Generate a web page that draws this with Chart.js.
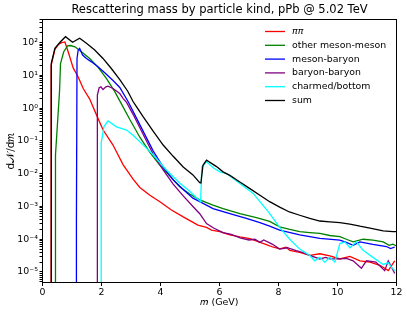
<!DOCTYPE html>
<html>
<head>
<meta charset="utf-8">
<script src="https://cdn.jsdelivr.net/npm/chart.js@4"></script>
<style>body{margin:0;background:#fff}</style>
</head>
<body>
<canvas id="myChart" width="407" height="314"></canvas>
<script>
// Values (mass in GeV, dN/dm)
let yMin = 4.78e-6;
let yMax = 510;

let mPiPi = [0.29,0.29,0.42,0.55,0.65,0.76,0.87,1.04,1.21,1.38,1.6,1.8,2.05,2.39,2.73,3.07,3.3,3.64,3.98,4.37,4.77,5.27,5.56,5.73,6.01,6.35,6.69,7.03,7.31,7.59,7.8,8.04,8.26,8.38,8.72,9.06,9.4,9.74,10.08,10.42,10.76,11.1,11.44,11.72,11.94];
let yPiPi = [1e-12,20,62,90,100,105,53,17,9,4,1.9,0.72,0.22,0.075,0.019,0.0068,0.0038,0.0022,0.0014,0.00078,0.00048,0.00027,0.00023,0.00019,0.00017,0.000135,0.000118,0.000105,0.000085,0.000068,5.8e-5,5.1e-5,5.7e-5,4.6e-5,4.0e-5,3.2e-5,3.6e-5,3.1e-5,2.5e-5,3.0e-5,2.2e-5,2.0e-5,1.6e-5,1.1e-5,2.2e-5];

let mOther = [0.44,0.44,0.58,0.61,0.72,0.85,0.95,1.1,1.32,1.6,1.88,2.17,2.45,2.73,2.96,3.3,3.64,3.98,4.32,4.65,4.99,5.33,5.78,6.12,6.69,7.25,7.7,8.04,8.38,8.72,9.06,9.4,9.74,10.08,10.3,10.53,10.87,11.2,11.55,11.75,11.88,12.0];
let yOther = [1e-12,0.037,3.6,23,53,80,82,75,53,33,18,8,3.2,1.1,0.45,0.13,0.045,0.018,0.0085,0.004,0.0024,0.0016,0.0011,0.00086,0.0006,0.00046,0.00035,0.00024,0.0002,0.00017,0.00016,0.00015,0.00013,0.00012,0.0001,8.3e-5,1.0e-4,9.4e-5,8.3e-5,6.5e-5,7.1e-5,6.2e-5];

let mMesBar = [1.14,1.15,1.17,1.21,1.26,1.36,1.49,1.66,1.88,2.11,2.39,2.62,2.9,3.07,3.41,3.75,4.09,4.43,4.77,5.1,5.33,5.78,6.35,6.91,7.37,7.7,8.04,8.72,9.4,10.08,10.3,10.53,10.76,11.2,11.66,11.8,11.94];
let yMesBar = [1e-12,4e-4,33,60,67,42,33,26,18.5,12,7,4.3,1.6,0.8,0.2,0.05,0.016,0.0065,0.0033,0.0018,0.0014,0.00086,0.0006,0.00043,0.00032,0.00025,0.00019,0.000135,0.000106,9.4e-5,8e-5,6.5e-5,8.3e-5,7e-5,6e-5,5.2e-5,5.8e-5];

let mBarBar = [1.86,1.86,1.92,1.98,2.05,2.15,2.22,2.39,2.62,2.73,2.85,3.07,3.41,3.75,4.09,4.43,4.77,5.1,5.33,5.56,5.8,6.12,6.4,6.7,7.0,7.2,7.37,7.5,7.8,8.04,8.3,8.6,8.8,9.06,9.4,9.6,9.74,10.08,10.3,10.53,10.81,10.98,11.3,11.6,11.72,11.94];
let yBarBar = [1e-12,2.5,4.2,4.5,3.7,4.5,4.7,4.0,2.8,2.0,1.5,0.65,0.16,0.04,0.013,0.0048,0.0021,0.001,0.0006,0.0003,0.00022,0.00016,0.00014,0.00011,9.5e-5,1.0e-4,8e-5,9.5e-5,7e-5,5e-5,5.5e-5,4.5e-5,4e-5,3.2e-5,2.5e-5,2.8e-5,2.5e-5,2.5e-5,2.6e-5,2.2e-5,1.3e-5,2.2e-5,2e-5,1.1e-5,2.2e-5,9e-6];

let mHeavy = [1.99,1.99,2.08,2.22,2.51,2.85,3.07,3.41,3.75,4.2,4.65,4.99,5.33,5.36,5.40,5.56,5.8,6.01,6.24,6.69,7.14,7.37,7.65,8.04,8.38,8.72,9.06,9.23,9.4,9.57,9.74,9.91,10.08,10.25,10.42,10.64,10.87,11.2,11.55,11.72,11.83,11.94];
let yHeavy = [1e-12,0.086,0.27,0.41,0.27,0.215,0.15,0.076,0.038,0.013,0.0052,0.0029,0.0015,0.0014,0.016,0.023,0.015,0.0114,0.0101,0.005,0.0025,0.0014,0.0007,0.00023,0.0001,5e-5,3.2e-5,2.2e-5,2.8e-5,2e-5,2.8e-5,2e-5,7.4e-5,8.3e-5,5.5e-5,8.3e-5,4.6e-5,2.8e-5,1.7e-5,1.9e-5,1.4e-5,1.1e-5];

let mSum = [0.29,0.30,0.42,0.61,0.78,1.02,1.26,1.49,1.77,2.05,2.34,2.62,2.89,3.07,3.19,3.41,3.75,4.09,4.43,4.77,5.10,5.33,5.37,5.44,5.56,5.90,6.12,6.35,6.69,7.03,7.37,7.70,8.04,8.37,8.72,9.06,9.40,9.74,10.08,10.42,10.76,11.10,11.55,11.88,12.0];
let ySum = [1e-12,24,67,107,152,103,136,96,60,33,16,7.5,3.3,1.6,1.1,0.55,0.2,0.075,0.034,0.016,0.0092,0.0053,0.0052,0.018,0.026,0.0165,0.0114,0.0089,0.0056,0.0035,0.0022,0.0014,0.00096,0.00068,0.00054,0.00043,0.00036,0.00034,0.00032,0.00029,0.00025,0.00022,0.00018,0.00017,0.00017];

let seriesNames = ['ππ', 'other meson-meson', 'meson-baryon', 'baryon-baryon', 'charmed/bottom', 'sum'];
let seriesColors = ['#ff0000', '#008000', '#0000ff', '#800080', '#00ffff', '#000000'];
let seriesM = [mPiPi, mOther, mMesBar, mBarBar, mHeavy, mSum];
let seriesY = [yPiPi, yOther, yMesBar, yBarBar, yHeavy, ySum];

let fontFamily = "'DejaVu Sans', sans-serif";
Chart.defaults.color = '#000';
Chart.defaults.font.family = fontFamily;

function toPoints(ms, ys) {
    return ms.map((m, i) => ({x: m, y: ys[i]}));
}

function superscript(n) {
    const map = {'-': '⁻', '0': '⁰', '1': '¹', '2': '²', '3': '³', '4': '⁴', '5': '⁵', '6': '⁶', '7': '⁷', '8': '⁸', '9': '⁹'};
    return String(n).split('').map(c => map[c]).join('');
}

// legend inside the plot, plus the box round it
const insideLegend = {
    id: 'insideLegend',
    afterDraw(chart) {
        const ctx = chart.ctx;
        const area = chart.chartArea;
        ctx.save();
        ctx.strokeStyle = '#000';
        ctx.lineWidth = 1;
        ctx.strokeRect(area.left, area.top, area.right - area.left, area.bottom - area.top);
        chart.data.datasets.forEach((ds, i) => {
            const y = area.top + 12 + i * 13.8;
            ctx.strokeStyle = ds.borderColor;
            ctx.lineWidth = 1.3;
            ctx.beginPath();
            ctx.moveTo(area.right - 131.5, y);
            ctx.lineTo(area.right - 111.5, y);
            ctx.stroke();
            ctx.fillStyle = '#000';
            ctx.font = (ds.label === 'ππ' ? 'italic ' : '') + '9.4px ' + fontFamily;
            ctx.textBaseline = 'middle';
            ctx.fillText(ds.label, area.right - 104.5, y);
        });
        ctx.restore();
    }
};

let datasets = seriesNames.map((name, i) => ({
    label: name,
    data: toPoints(seriesM[i], seriesY[i]),
    borderColor: seriesColors[i],
    borderWidth: 1.3,
    pointRadius: 0,
    fill: false,
    tension: 0,
    order: seriesNames.length - i
}));

ctx = document.getElementById('myChart').getContext('2d');
myChart = new Chart(ctx, {
    type: 'line',
    data: { datasets: datasets },
    options: {
        responsive: false,
        animation: false,
        layout: { padding: { left: 0, right: 10.5, top: 0, bottom: 0 } },
        plugins: {
            legend: { display: false },
            tooltip: { enabled: false },
            title: {
                display: true,
                fullSize: false,
                text: 'Rescattering mass by particle kind, pPb @ 5.02 TeV',
                font: { size: 11.5, weight: 'normal', family: fontFamily },
                color: '#000',
                padding: { top: 3.6, bottom: 2.1 }
            }
        },
        scales: {
            x: {
                type: 'linear',
                min: 0,
                max: 12,
                ticks: { stepSize: 2, padding: 1, font: { size: 9.4 }, maxRotation: 0 },
                grid: { display: true, drawOnChartArea: false, drawTicks: true, tickLength: 3.5, tickColor: '#000' },
                border: { display: true, color: '#000', width: 1 },
                title: { display: true, text: '𝑚 (GeV)', font: { size: 9.5 }, padding: { top: 0, bottom: 5.6 } },
                afterFit: function(scale) { scale.height = 31.5; }
            },
            y: {
                type: 'logarithmic',
                min: yMin,
                max: yMax,
                afterBuildTicks: function(scale) {
                    let ticks = [];
                    for (let e = -6; e <= 3; e++) {
                        for (let k = 1; k <= 9; k++) {
                            let v = k * Math.pow(10, e);
                            if (v >= yMin && v <= yMax) ticks.push({ value: v, major: k === 1 });
                        }
                    }
                    scale.ticks = ticks;
                },
                ticks: {
                    autoSkip: false,
                    padding: 1.5,
                    font: { size: 9.4 },
                    callback: function(value) {
                        let e = Math.log10(value);
                        if (Math.abs(e - Math.round(e)) < 1e-6) return '10' + superscript(Math.round(e));
                        return '';
                    }
                },
                grid: { display: true, drawOnChartArea: false, drawTicks: true, tickLength: 3, tickColor: '#000' },
                border: { display: true, color: '#000', width: 1 },
                title: { display: true, text: 'd𝒩/d𝑚', font: { size: 10.5 }, padding: { top: 5, bottom: 0 } },
                afterFit: function(scale) { scale.width = 42.5; }
            }
        }
    },
    plugins: [insideLegend]
});
</script>
</body>
</html>
